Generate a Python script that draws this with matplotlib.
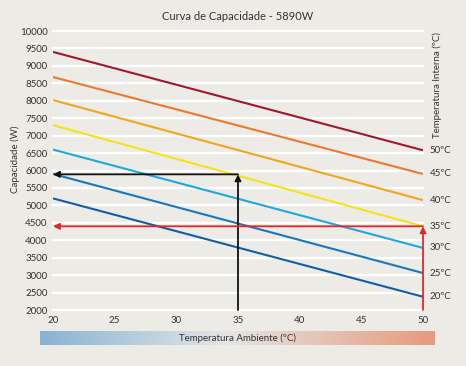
#! /usr/bin/env python3

import numpy as np
import matplotlib
matplotlib.use('Agg')
import matplotlib.pyplot as plt
from matplotlib.colors import LinearSegmentedColormap

# temperatura ambiente (x) and capacity at each end, per internal temperature
ambiente = [20, 50]
interna = [20, 25, 30, 35, 40, 45, 50]
cap_20 = [5200, 5900, 6600, 7300, 8020, 8680, 9400]
cap_50 = [2380, 3060, 3780, 4400, 5150, 5900, 6580]
colors = ['#0f5fa6', '#1877bd', '#1ea7e0', '#f4e31a', '#f2a51f', '#ec7a2e', '#a3172c']

# worked example arrows
ex_amb = 35
ex_cap = 5890
red_amb = 50
red_cap = 4400

bg = '#edebe5'
txt = '#333333'
plt.rcParams['font.family'] = ['Lato', 'DejaVu Sans']

fig = plt.figure(figsize=(4.66, 3.66), dpi=100, facecolor=bg)
ax = fig.add_axes([53/466, 1-310/366, 370/466, 279/366], facecolor=bg)

ax.set_xlim(20, 50)
ax.set_ylim(2000, 10000)
for s in ax.spines.values():
  s.set_visible(False)
for y in range(2000, 10001, 500):
  ax.axhline(y, color='white', lw=1.7, zorder=1, clip_on=False)

for t, a, b, c in zip(interna, cap_20, cap_50, colors):
  ax.plot(ambiente, [a, b], color=c, lw=1.5, zorder=3, solid_capstyle='butt')
  ax.annotate('{}ºC'.format(t), (50, b), xytext=(5, 0), textcoords='offset points',
              va='center', ha='left', fontsize=7, color=txt)

# black example: up from 35 then left
ax.annotate('', xy=(ex_amb, ex_cap), xytext=(ex_amb, 2000),
            arrowprops=dict(arrowstyle='-|>', color='#111111', lw=1.3,
                            mutation_scale=9, shrinkA=0, shrinkB=0), zorder=5)
ax.annotate('', xy=(20, ex_cap), xytext=(ex_amb, ex_cap),
            arrowprops=dict(arrowstyle='-|>', color='#111111', lw=1.3,
                            mutation_scale=9, shrinkA=0, shrinkB=0), zorder=5)
# red example
ax.annotate('', xy=(red_amb, red_cap), xytext=(red_amb, 2000),
            arrowprops=dict(arrowstyle='-|>', color='#e0262b', lw=1.3,
                            mutation_scale=9, shrinkA=0, shrinkB=0), zorder=5)
ax.annotate('', xy=(20, red_cap), xytext=(red_amb, red_cap),
            arrowprops=dict(arrowstyle='-|>', color='#e0262b', lw=1.3,
                            mutation_scale=9, shrinkA=0, shrinkB=0), zorder=5)

ax.set_xticks(range(20, 51, 5))
ax.set_yticks(range(2000, 10001, 500))
ax.tick_params(length=0, labelsize=7, colors=txt, pad=4)
ax.set_ylabel('Capacidade (W)', fontsize=7, color=txt)
ax.yaxis.set_label_coords(-0.089, 0.54)
ax.set_title('Curva de Capacidade - 5890W', fontsize=8, color=txt, pad=8)

fig.text(437/466, 1-85/366, 'Temperatura Interna (ºC)', rotation=90, fontsize=7,
         color=txt, ha='center', va='center')

# gradient bar at the bottom
cmap = LinearSegmentedColormap.from_list('amb', [(0, '#88b3d3'), (0.47, '#e4e6e5'),
                                                 (1, '#e8997c')])
bar = fig.add_axes([40/466, 1-345/366, 395/466, 14.5/366])
bar.imshow(np.linspace(0, 1, 256)[None, :], aspect='auto', cmap=cmap)
bar.set_axis_off()
bar.text(0.5, 0.5, 'Temperatura Ambiente (ºC)', transform=bar.transAxes,
         ha='center', va='center', fontsize=7, color=txt)

fig.savefig('out.png', dpi=100, facecolor=bg)
